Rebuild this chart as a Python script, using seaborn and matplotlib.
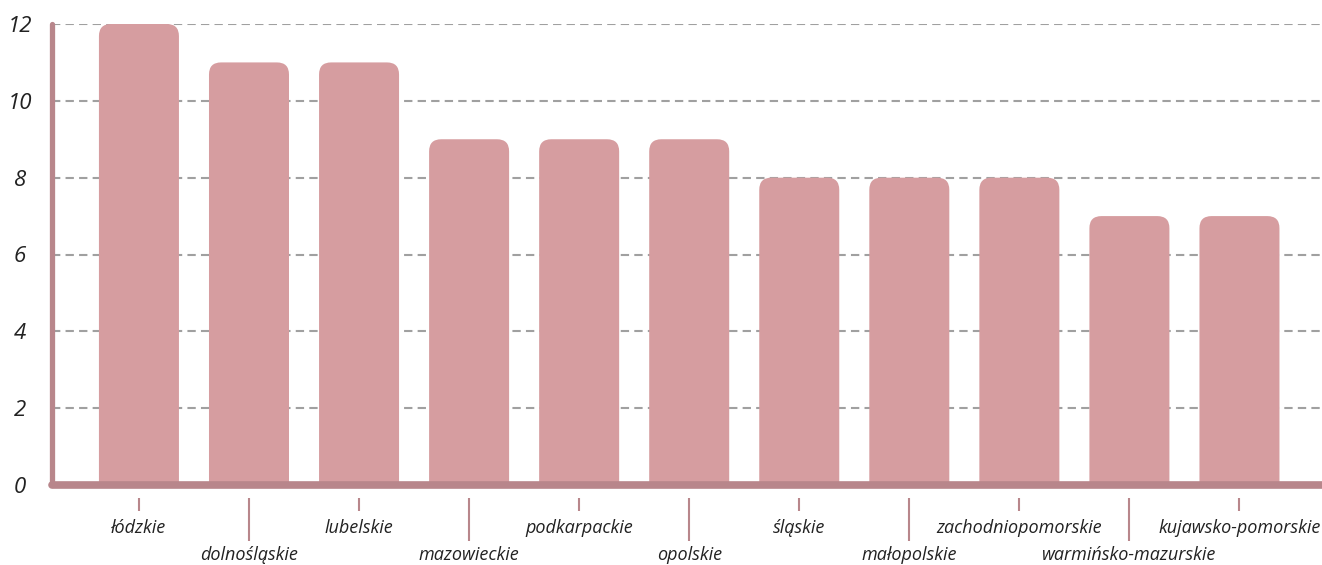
import seaborn as sns
import pandas as pd
import matplotlib.pyplot as plt
from matplotlib.patches import FancyBboxPatch

regions = ['łódzkie', 'dolnośląskie', 'lubelskie', 'mazowieckie', 'podkarpackie', 'opolskie',
           'śląskie', 'małopolskie', 'zachodniopomorskie', 'warmińsko-mazurskie', 'kujawsko-pomorskie']
counts = [12, 11, 11, 9, 9, 9, 8, 8, 8, 7, 7]
y_ticks = [0, 2, 4, 6, 8, 10, 12]

bar_color = '#d69da0'
axis_color = '#b8868b'

sns.set_style('white')
plt.rcParams['font.family'] = ['Open Sans', 'DejaVu Sans']

df = pd.DataFrame({'region': regions, 'count': counts})

fig = plt.figure(figsize=(13.22, 5.65), dpi=100)
ax = fig.add_axes([52 / 1322, 80 / 565, 1 - 52 / 1322, (485 - 24) / 565])

sns.barplot(data=df, x='region', y='count', color=bar_color, width=0.727,
            saturation=1, ax=ax, zorder=2)

# swap plain bars for ones with rounded tops
px_x = 110.0
px_y = (485 - 24) / 12.0
for rect in list(ax.patches):
    x0, w, h = rect.get_x(), rect.get_width(), rect.get_height()
    rect.remove()
    box = FancyBboxPatch((x0, -1), w, h + 1,
                         boxstyle='round,pad=0,rounding_size=0.11',
                         mutation_aspect=px_x / px_y,
                         facecolor=bar_color, edgecolor='none', zorder=2)
    ax.add_patch(box)

ax.set_xlim(-0.79, 10.75)
ax.set_ylim(0, 12)
ax.set_yticks(y_ticks)
ax.set_xlabel('')
ax.set_ylabel('')

for y in y_ticks[1:]:
    ax.axhline(y, color='#a0a0a0', lw=1.5, ls=(0, (4, 2.5)), zorder=1)

# axis lines
ax.axhline(0, color=axis_color, lw=5.5, zorder=3, clip_on=False)
for s in ['top', 'right']:
    ax.spines[s].set_visible(False)
ax.spines['left'].set_color(axis_color)
ax.spines['left'].set_linewidth(3.8)
ax.spines['left'].set_capstyle('round')
ax.spines['left'].set_zorder(4)
ax.spines['bottom'].set_visible(False)
ax.spines['bottom'].set_position(('outward', 9))

ax.tick_params(axis='y', left=False, length=0, pad=23, labelsize=16)
for lab in ax.get_yticklabels():
    lab.set_fontstyle('italic')
    lab.set_color('#222222')
    lab.set_horizontalalignment('center')

ax.tick_params(axis='x', bottom=True, direction='out', color=axis_color, width=1.5,
               labelsize=13, labelcolor='#222222')
# alternate short / long ticks so the labels sit on two rows
for i, tick in enumerate(ax.xaxis.get_major_ticks()):
    if i % 2 == 0:
        tick._apply_params(size=9.5, pad=6)
    else:
        tick._apply_params(size=31, pad=4)
for lab in ax.get_xticklabels():
    lab.set_fontstyle('italic')

fig.savefig('out.png', dpi=100)
